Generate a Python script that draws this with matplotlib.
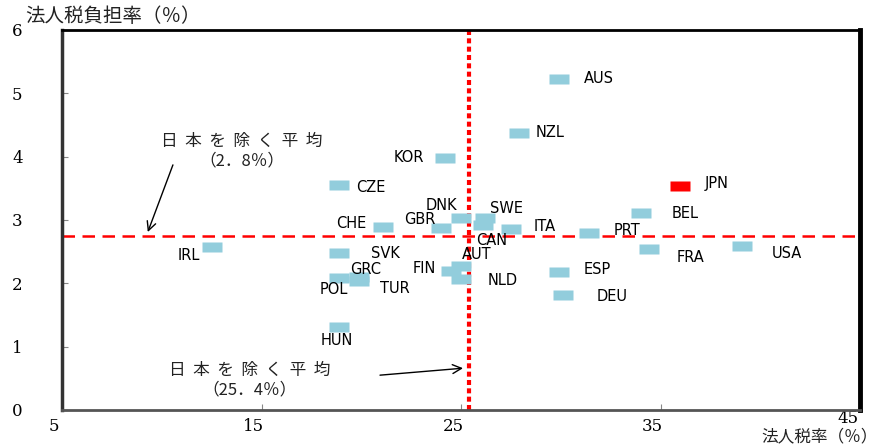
import matplotlib
matplotlib.use("Agg")
import matplotlib.pyplot as plt
from matplotlib.transforms import ScaledTranslation

plt.rcParams['font.family'] = ['Noto Sans CJK JP', 'DejaVu Sans']

# 国別データ (法人税率 %, 法人税負担率 %)
countries = ['AUS', 'NZL', 'KOR', 'CZE', 'DNK', 'SWE', 'CAN', 'GBR', 'CHE',
             'ITA', 'PRT', 'BEL', 'FRA', 'USA', 'ESP', 'DEU', 'IRL', 'SVK',
             'POL', 'GRC', 'TUR', 'HUN', 'AUT', 'FIN', 'NLD']
tax_rate = [29.9, 27.9, 24.2, 18.9, 25.0, 26.2, 26.1, 24.0, 21.1,
            27.5, 31.4, 34.0, 34.4, 39.1, 29.9, 30.1, 12.5, 18.9,
            18.9, 19.9, 19.9, 18.9, 25.0, 24.5, 25.0]
tax_burden = [5.23, 4.38, 3.98, 3.55, 3.03, 3.03, 2.92, 2.87, 2.89,
              2.86, 2.79, 3.11, 2.54, 2.59, 2.18, 1.82, 2.57, 2.48,
              2.08, 2.10, 2.04, 1.31, 2.27, 2.19, 2.07]

jpn_rate = 36.0
jpn_burden = 3.54

avg_rate = 25.4     # 日本を除く平均
avg_burden = 2.75

x_ticks = [5, 15, 25, 35, 45]
y_ticks = [0, 1, 2, 3, 4, 5, 6]

# label offsets in pixels (dx, dy) from the marker centre
offsets = {
    'AUS': (40, 0), 'NZL': (31, 0), 'KOR': (-36, 0), 'CZE': (32, -2),
    'DNK': (-20, 13), 'SWE': (22, 10), 'CAN': (9, -15), 'GBR': (-21, 9),
    'CHE': (-32, 3), 'ITA': (34, 2), 'PRT': (38, 3), 'BEL': (45, 0),
    'FRA': (42, -8), 'USA': (45, -8), 'ESP': (38, 2), 'DEU': (49, -2),
    'IRL': (-23, -8), 'SVK': (46, -1), 'POL': (-5, -11), 'GRC': (6, 7),
    'TUR': (36, -8), 'HUN': (-2, -13), 'AUT': (16, 12), 'FIN': (-27, 3),
    'NLD': (42, -2),
}

rect = [(-1, -0.53), (1, -0.53), (1, 0.53), (-1, 0.53), (-1, -0.53)]

fig = plt.figure(figsize=(8.85, 4.46), dpi=100)
ax = fig.add_axes([62 / 885, 36 / 446, 798 / 885, 380 / 446])

# average lines
ax.axhline(avg_burden, color='#ff0000', lw=1.8, ls=(0, (5, 3)), zorder=1)
ax.axvline(avg_rate, color='#ff0000', lw=3, ls=(0, (1.2, 0.8)), zorder=1)

ax.plot(tax_rate, tax_burden, ls='none', marker=rect, markersize=13.7,
        mfc='#92cddc', mec='none', zorder=3)
ax.plot([jpn_rate], [jpn_burden], ls='none', marker=rect, markersize=14.5,
        mfc='#ff0000', mec='none', zorder=3)

lbl_font = dict(family='DejaVu Sans', fontsize=10.5, color='black')
for name, x, y in zip(countries, tax_rate, tax_burden):
    dx, dy = offsets[name]
    ax.annotate(name, (x, y), xytext=(dx, dy), textcoords='offset pixels',
                ha='center', va='center', **lbl_font)
ax.annotate('JPN', (jpn_rate, jpn_burden), xytext=(36, 2),
            textcoords='offset pixels', ha='center', va='center', **lbl_font)

# annotations for the averages
ax.text(14.0, 4.09, '日  本  を  除  く  平  均\n（2．8％）', ha='center',
        va='center', fontsize=12, linespacing=1.15, color='#222222')
ax.annotate('', xy=(9.3, 2.81), xytext=(10.56, 3.87),
            arrowprops=dict(arrowstyle='->', color='black', lw=1,
                            shrinkA=0, shrinkB=0, mutation_scale=16))
ax.text(14.4, 0.47, '日  本  を  除  く  平  均\n（25．4％）', ha='center',
        va='center', fontsize=12, linespacing=1.15, color='#222222')
ax.annotate('', xy=(25.1, 0.66), xytext=(20.94, 0.55),
            arrowprops=dict(arrowstyle='->', color='black', lw=1,
                            shrinkA=0, shrinkB=0, mutation_scale=16))

ax.set_xlim(5, 45)
ax.set_ylim(0, 6)
ax.set_xticks(x_ticks)
ax.set_yticks(y_ticks)
ax.tick_params(direction='in', length=4, width=0.8, color='#888888',
               labelsize=12)
ax.tick_params(axis='x', pad=6)
ax.tick_params(axis='y', pad=36)
for lab in ax.get_xticklabels() + ax.get_yticklabels():
    lab.set_family('DejaVu Serif')
for lab in ax.get_yticklabels():
    lab.set_horizontalalignment('left')
xlabs = ax.get_xticklabels()
for i, lab in enumerate(xlabs):
    last = i == len(xlabs) - 1
    dx = -12 if last else -8
    dy = 8 if last else 0
    lab.set_transform(lab.get_transform() +
                      ScaledTranslation(dx / 100, dy / 100, fig.dpi_scale_trans))

ax.spines['left'].set_linewidth(2.5)
ax.spines['left'].set_color('#333333')
ax.spines['bottom'].set_linewidth(2)
ax.spines['bottom'].set_color('#555555')
ax.spines['top'].set_linewidth(2)
ax.spines['top'].set_color('black')
ax.spines['right'].set_linewidth(3.5)
ax.spines['right'].set_color('black')

fig.text(25 / 885, 1 - 16 / 446, '法人税負担率（％）', fontsize=14,
         ha='left', va='center', color='#222222')
fig.text(878 / 885, 5 / 446, '法人税率（％）', fontsize=12,
         ha='right', va='baseline', color='#222222')

fig.savefig('out.png', dpi=100)
